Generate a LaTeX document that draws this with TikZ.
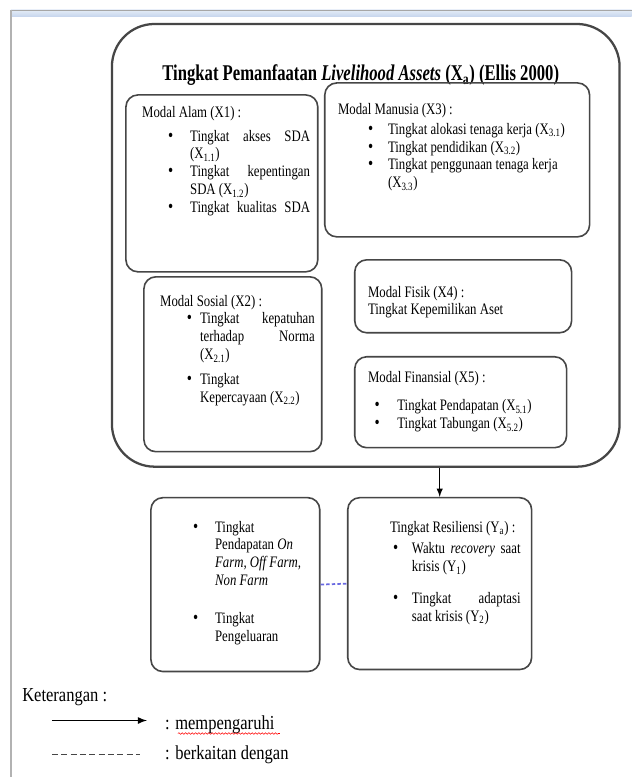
\documentclass[tikz,border=0pt]{standalone}
\usepackage{fontspec}
\setmainfont{Liberation Serif}
\usepackage{graphicx}
\usetikzlibrary{fit}
\usetikzlibrary{decorations.pathmorphing}

\definecolor{garis}{RGB}{70,70,70}
\definecolor{ungu}{RGB}{105,105,225}
\definecolor{birumuda}{RGB}{228,236,247}
\definecolor{birutua}{RGB}{196,212,236}

\newcommand{\isi}[2]{\scalebox{1}[1.25]{\parbox[t]{#1}{\fontsize{9.6}{10.7}\selectfont #2}}}
\newcommand{\titik}{{\fontsize{11}{10.7}\selectfont\textbullet}}
\newcommand{\butir}[3]{\par{\leftskip=#2\noindent\hspace*{\dimexpr#1-#2\relax}\makebox[\dimexpr#2-#1\relax][l]{\titik}#3\par}}

\begin{document}
\begin{tikzpicture}[x=0.75pt, y=-0.75pt,
	kotak/.style={draw=garis, line width=1.2pt, rounded corners=9pt, inner sep=0pt},
	luarbox/.style={draw=garis, line width=1.7pt, rounded corners=32pt, inner sep=0pt},
	teks/.style={anchor=north west, inner sep=0pt},
	ket/.style={anchor=west, inner sep=0pt},
	panah/.style={-latex, line width=1.1pt, black},
	kait/.style={ungu, line width=1.3pt, dash pattern=on 2.6pt off 1.6pt}]
	\fill[white] (0,0) rectangle (632,778);
	\shade[top color=birumuda, bottom color=birutua] (11,10) rectangle (632,17);
	\draw[gray!70, line width=0.6pt] (11,10) -- (632,10);
	\draw[gray!60, line width=0.8pt] (11,10) -- (11,778);
	
	\node[luarbox, fit={(112,24) (620,467)}] (luar) {};
	\node[anchor=base] (judul) at (361,81) {\scalebox{1}[1.35]{\fontsize{12.5}{15}\selectfont\bfseries Tingkat Pemanfaatan \textit{Livelihood Assets} (X\textsubscript{a}) (Ellis 2000)}};
	
	\node[kotak, fit={(126,95) (318,272)}] (alam) {};
	\node[kotak, fit={(325,83) (590,237)}] (manusia) {};
	\node[kotak, fit={(144,277) (322,452)}] (sosial) {};
	\node[kotak, fit={(355,260) (572,333)}] (fisik) {};
	\node[kotak, fit={(355,357) (567,448)}] (finansial) {};
	\node[kotak, fit={(151,498) (320,672)}] (kiri) {};
	\node[kotak, fit={(348,498) (532,670)}] (resi) {};
	
	\node[teks] (alamtxt) at (142,106) {\isi{126pt}{Modal Alam (X1) :\par\vspace{3.6pt}
		\butir{19.5pt}{36pt}{Tingkat akses SDA\linebreak (X\textsubscript{1.1})}
		\butir{19.5pt}{36pt}{Tingkat kepentingan\linebreak SDA (X\textsubscript{1.2})}
		\butir{19.5pt}{36pt}{Tingkat kualitas SDA\parfillskip=0pt}}};
	\node[teks] (manusiatxt) at (338,103) {\isi{178pt}{Modal Manusia (X3) :\par\vspace{1.3pt}
		\butir{22.5pt}{37.5pt}{Tingkat alokasi tenaga kerja (X\textsubscript{3.1})}
		\butir{22.5pt}{37.5pt}{Tingkat pendidikan (X\textsubscript{3.2})}
		\butir{22.5pt}{37.5pt}{Tingkat penggunaan tenaga kerja\newline (X\textsubscript{3.3})}}};
	\node[teks] (sosialtxt) at (160,295) {\isi{116pt}{Modal Sosial (X2) :\par
		\butir{20pt}{30pt}{Tingkat kepatuhan\linebreak terhadap Norma\linebreak (X\textsubscript{2.1})}\vspace{4.2pt}
		\butir{20pt}{30pt}{Tingkat\newline Kepercayaan (X\textsubscript{2.2})}}};
	\node[teks] (fisiktxt) at (368,286) {\isi{150pt}{Modal Fisik (X4) :\par Tingkat Kepemilikan Aset}};
	\node[teks] (finansialtxt) at (368,371) {\isi{150pt}{Modal Finansial (X5) :\par\vspace{6.6pt}
		\butir{5pt}{22pt}{Tingkat Pendapatan (X\textsubscript{5.1})}
		\butir{5pt}{22pt}{Tingkat Tabungan (X\textsubscript{5.2})}}};
	\node[teks] (kiritxt) at (193,521) {\isi{90pt}{%
		\butir{0pt}{16.5pt}{Tingkat\newline Pendapatan \textit{On}\newline \textit{Farm, Off Farm,}\newline \textit{Non Farm}}\vspace{12pt}
		\butir{0pt}{16.5pt}{Tingkat\newline Pengeluaran}}};
	\node[teks] (resitxt) at (390,521) {\isi{98pt}{Tingkat Resiliensi (Y\textsubscript{a}) :\par\vspace{2.4pt}
		\butir{2.25pt}{16.5pt}{Waktu \textit{recovery} saat\linebreak krisis (Y\textsubscript{1})}\vspace{8.4pt}
		\butir{2.25pt}{16.5pt}{Tingkat adaptasi\linebreak saat krisis (Y\textsubscript{2})}}};
	
	\draw[panah] (luar.south -| resi.north) -- (resi.north);
	\draw[kait] (kiri.east) -- (resi.west);
	
	\node[ket] (keterangan) at (22,698) {\scalebox{1}[1.2]{\fontsize{12.4}{14}\selectfont Keterangan :}};
	\coordinate (p1) at (52,721);
	\coordinate (p2) at (147,721);
	\draw[panah, line width=1.3pt] (p1) -- (p2);
	\node[ket] (ket1) at (165,725) {\scalebox{1}[1.2]{\fontsize{12.4}{14}\selectfont : mempengaruhi}};
	\draw[red, decorate, decoration={snake, amplitude=0.6pt, segment length=2.5pt}] (178,734) -- (280,734);
	\coordinate (q1) at (52,755);
	\coordinate (q2) at (140,755);
	\draw[garis, line width=1.3pt, dash pattern=on 4.5pt off 2.5pt] (q1) -- (q2);
	\node[ket] (ket2) at (165,755) {\scalebox{1}[1.2]{\fontsize{12.4}{14}\selectfont : berkaitan dengan}};
\end{tikzpicture}
\end{document}
